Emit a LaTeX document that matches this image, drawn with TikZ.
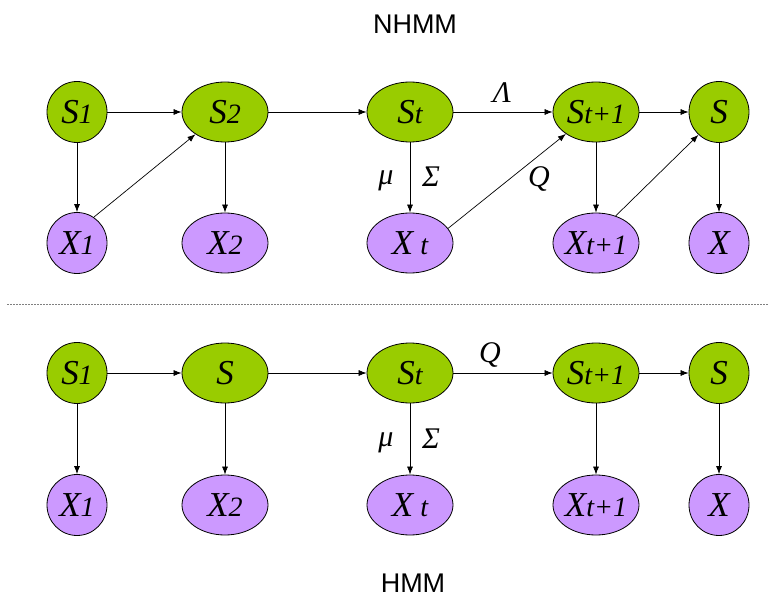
\documentclass[tikz,border=0pt]{standalone}
\usepackage{fontspec}
\setmainfont{Liberation Serif}
\newfontfamily\titlefont{Liberation Sans}
\usetikzlibrary{shapes.geometric,arrows.meta}
\definecolor{sgreen}{RGB}{153,204,0}
\definecolor{xpurple}{RGB}{204,153,255}
\newcommand{\mylab}[2]{\makebox[0pt]{\itshape{\fontsize{35}{35}\selectfont #1}{\fontsize{28}{28}\selectfont #2}}}
\newcommand{\mygreek}[1]{{\fontsize{30}{30}\selectfont\itshape #1}}
\begin{document}
\begin{tikzpicture}[x=1pt,y=-1pt,
  base/.style={ellipse,draw=black,line width=0.8pt,inner sep=0pt,font=\itshape},
  snode/.style={base,fill=sgreen},
  xnode/.style={base,fill=xpurple},
  narrow/.style={minimum width=60pt,minimum height=61pt},
  wide/.style={minimum width=86pt,minimum height=60pt},
  edge/.style={draw=black,line width=0.7pt,-{Latex[length=8pt,width=6pt]}},
  glab/.style={inner sep=0pt},
  ttl/.style={font=\titlefont\fontsize{27}{27}\selectfont,inner sep=0pt}]
\path[use as bounding box] (0,0) rectangle (769,599);
\node[ttl] (t1) at (415,24) {NHMM};
\node[ttl] (t2) at (413,583) {HMM};
\coordinate (dl) at (7,304);
\coordinate (dr) at (769,304);
\draw[gray,line width=0.6pt,dash pattern=on 2pt off 1pt] (dl) -- (dr);
% top row
\node[snode,narrow] (a1) at (77,112) {\mylab{S}{1}};
\node[snode,wide] (a2) at (225,112) {\mylab{S}{2}};
\node[snode,wide] (a3) at (410,112) {\mylab{S}{t}};
\node[snode,wide] (a4) at (596,112) {\mylab{S}{t+1}};
\node[snode,narrow] (a5) at (719,112) {\mylab{S}{}};
\node[xnode,narrow] (b1) at (77,243) {\mylab{X}{1}};
\node[xnode,wide] (b2) at (225,243) {\mylab{X}{2}};
\node[xnode,wide] (b3) at (410,243) {\mylab{X}{\ t}};
\node[xnode,wide] (b4) at (596,243) {\mylab{X}{t+1}};
\node[xnode,narrow] (b5) at (719,243) {\mylab{X}{}};
\draw[edge] (a1) -- (a2);
\draw[edge] (a2) -- (a3);
\draw[edge] (a3) -- (a4);
\draw[edge] (a4) -- (a5);
\foreach \i in {1,...,5} {\draw[edge] (a\i) -- (b\i);}
\draw[edge] (b1.57) -- (a2.217);
\draw[edge] (b3.21) -- (a4.216);
\draw[edge] (b4.54) -- (a5.228);
\node[glab] (lam) at (502,93) {\mygreek{Λ}};
\node[glab] (mu1) at (386,181) {\mygreek{μ}};
\node[glab] (sig1) at (431,177) {\mygreek{Σ}};
\node[glab] (q1) at (539,179) {\mygreek{Q}};
% bottom row
\node[snode,narrow] (c1) at (77,373) {\mylab{S}{1}};
\node[snode,wide] (c2) at (225,373) {\mylab{S}{}};
\node[snode,wide] (c3) at (410,373) {\mylab{S}{t}};
\node[snode,wide] (c4) at (596,373) {\mylab{S}{t+1}};
\node[snode,narrow] (c5) at (719,373) {\mylab{S}{}};
\node[xnode,narrow] (d1) at (77,505) {\mylab{X}{1}};
\node[xnode,wide] (d2) at (225,505) {\mylab{X}{2}};
\node[xnode,wide] (d3) at (410,505) {\mylab{X}{\ t}};
\node[xnode,wide] (d4) at (596,505) {\mylab{X}{t+1}};
\node[xnode,narrow] (d5) at (719,505) {\mylab{X}{}};
\draw[edge] (c1) -- (c2);
\draw[edge] (c2) -- (c3);
\draw[edge] (c3) -- (c4);
\draw[edge] (c4) -- (c5);
\foreach \i in {1,...,5} {\draw[edge] (c\i) -- (d\i);}
\node[glab] (q2) at (490,355) {\mygreek{Q}};
\node[glab] (mu2) at (386,443) {\mygreek{μ}};
\node[glab] (sig2) at (431,439) {\mygreek{Σ}};
\end{tikzpicture}
\end{document}
